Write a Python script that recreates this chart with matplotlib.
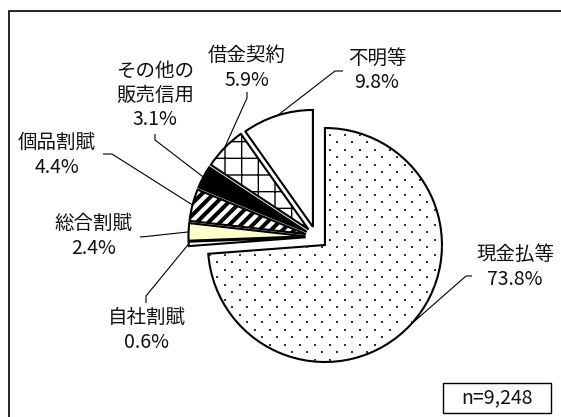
import math
import numpy as np
import matplotlib
matplotlib.use("Agg")
import matplotlib.pyplot as plt
from matplotlib.patches import Rectangle
from matplotlib.collections import LineCollection

plt.rcParams['font.family'] = ['Noto Sans CJK JP', 'DejaVu Sans']

# 支払方法別の構成比（%）
labels = ['現金払等', '自社割賦', '総合割賦', '個品割賦', 'その他の\n販売信用', '借金契約', '不明等']
shares = [73.8, 0.6, 2.4, 4.4, 3.1, 5.9, 9.8]
n_total = 9248

# 塗りと模様（点模様・斜線は別に描く）
fills = ['white', 'white', '#FFFFCC', 'white', 'black', 'white', 'white']
hatches = ['', '', '', '', '', '+', '']

# 切り離し量（px）
explode = [12.2, 10.5, 10.5, 10.5, 10.5, 10.5, 10.2]

# ラベル中心と引出線の折れ点（上端からのpx）
label_pos = [(515, 267), (147, 330), (94, 236), (57, 155), (155, 95), (247, 68), (377, 70)]
leader_pts = [((472, 276), (466, 276)),
              ((146, 303), (146, 296)),
              ((140, 237), (146, 236.5)),
              ((103, 154), (112, 154)),
              ((155, 134), (155, 140)),
              ((247, 92), (247, 98)),
              ((343, 71), (335, 71))]

W, H = 561, 417
fig = plt.figure(figsize=(W / 100, H / 100), dpi=100)
ax = fig.add_axes([0, 0, 1, 1])

wedges, _ = ax.pie(shares, explode=explode, startangle=90, counterclock=False,
                   radius=117, center=(316, H - 236.7), colors=fills,
                   hatch=hatches,
                   wedgeprops=dict(edgecolor='black', linewidth=1.5))

# 現金払等：まばらな点模様（千鳥配置）
cash = wedges[0]
cx, cy = cash.center
pts = []
for i, yy in enumerate(np.arange(cy - 130, cy + 130, 7.5)):
    off = 0 if i % 2 == 0 else 7.5
    for xx in np.arange(cx - 130 + off, cx + 130, 15):
        pts.append((xx, yy))
pts = np.array(pts)
dots = ax.scatter(pts[:, 0], pts[:, 1], s=1.8, marker='s', c='#333333',
                  linewidths=0, zorder=cash.get_zorder() + 0.1)
dots.set_clip_path(cash)

# 個品割賦：太い右上がり斜線
kohin = wedges[3]
kx, ky = kohin.center
segs = [[(kx - 140, ky - 140 + c), (kx + 20, ky + 20 + c)]
        for c in np.arange(-160, 160, 11.7)]
stripes = LineCollection(segs, colors='black', linewidths=2.9,
                         zorder=kohin.get_zorder() + 0.1)
ax.add_collection(stripes)
stripes.set_clip_path(kohin)

ax.set_xlim(0, W)
ax.set_ylim(0, H)
ax.set_aspect('equal')
ax.axis('off')

# ラベルと引出線（扇形の外周中央へ）
for w, lab, v, (tx, ty), (p0, p1) in zip(wedges, labels, shares, label_pos, leader_pts):
    mid = math.radians((w.theta1 + w.theta2) / 2)
    wx, wy = w.center
    axp = wx + w.r * math.cos(mid)
    ayp = wy + w.r * math.sin(mid)
    ax.plot([p0[0], p1[0], axp], [H - p0[1], H - p1[1], ayp],
            color='black', lw=0.8, solid_capstyle='butt')
    ax.text(tx, H - ty, f'{lab}\n{v}%', ha='center', va='center',
            fontsize=14, linespacing=1.2, color='#111111')

# 回答数
ax.add_patch(Rectangle((443, H - 413), 108, 30, fill=False, lw=1.0, ec='black'))
ax.text(497, H - 398, f'n={n_total:,}', ha='center', va='center',
        fontsize=14, color='#111111')

# 外枠
ax.add_patch(Rectangle((9, -30), 700, H - 11 + 30, fill=False, lw=1.2, ec='black'))

fig.savefig('out.png', dpi=100)
